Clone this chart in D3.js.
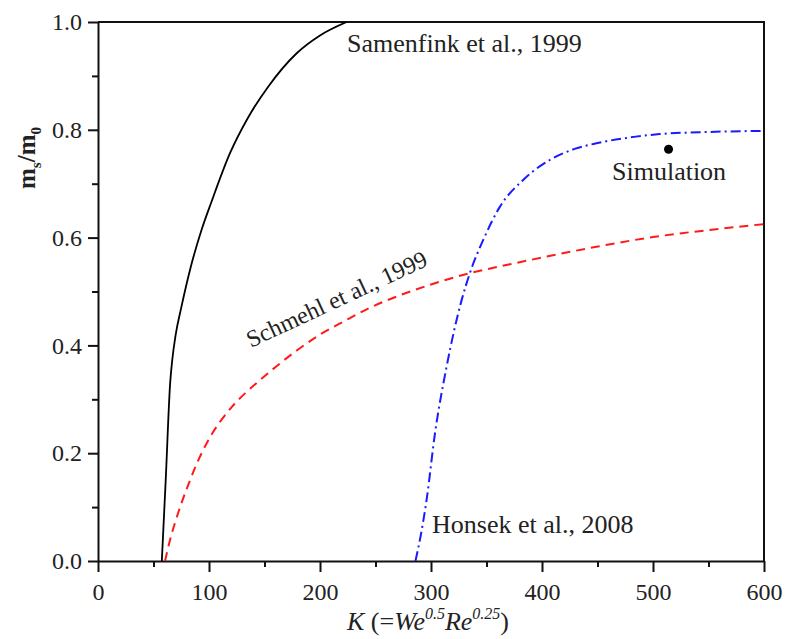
<!DOCTYPE html>
<html lang="en">
<head>
  <meta charset="utf-8" />
  <title>Deposited mass fraction vs K</title>
<style>
body {
	margin: 0;
	background: #fff;
	font-family: 'Liberation Serif', 'Times New Roman', serif;
}
.axis text {
	font-family: 'Liberation Serif', 'Times New Roman', serif;
	font-size: 24px;
	fill: #222;
}
.axis path, .axis line {
	stroke: #111;
	stroke-width: 2px;
}
.lbl {
	font-size: 26px;
	fill: #222;
}
</style>
</head>
<body>
<svg width="785" height="639"></svg>
<script src="https://cdn.jsdelivr.net/npm/d3@7"></script>
<script>

// Samenfink et al., 1999 (solid black)
var samenfinkK = [57.5, 61, 65, 67, 70, 75, 83.5, 93.4, 102, 119, 135, 153, 179, 200, 224];
var samenfinkM = [0, 0.15, 0.33, 0.375, 0.42, 0.47, 0.545, 0.615, 0.665, 0.757, 0.822, 0.879, 0.942, 0.975, 1.0];

// Schmehl et al., 1999 (red dashed)
var schmehlK = [60.4, 65, 70, 76, 82, 88, 95, 103, 112, 121, 133, 145, 160, 180, 200, 221, 245, 272, 300, 335, 370, 400, 449, 500, 550, 600];
var schmehlM = [0, 0.04, 0.075, 0.112, 0.145, 0.176, 0.207, 0.237, 0.264, 0.287, 0.312, 0.334, 0.36, 0.392, 0.42, 0.444, 0.47, 0.493, 0.513, 0.534, 0.55, 0.563, 0.583, 0.601, 0.614, 0.625];

// Honsek et al., 2008 (blue dash-dot)
var honsekK = [286, 291, 296, 303.6, 314, 327.6, 335, 348, 362, 383, 407, 430, 449, 480, 506, 550, 600];
var honsekM = [0, 0.05, 0.113, 0.237, 0.36, 0.484, 0.534, 0.6, 0.657, 0.707, 0.744, 0.765, 0.775, 0.786, 0.792, 0.796, 0.798];

// simulation point
var simK = [514];
var simM = [0.764];

var xTicks = [0, 100, 200, 300, 400, 500, 600];
var yTicks = [0.0, 0.2, 0.4, 0.6, 0.8, 1.0];

var svg = d3.select("svg");
var margin = {top: 22, right: 21, bottom: 78, left: 98};
var width = 785 - margin.left - margin.right,
	height = 639 - margin.top - margin.bottom;

var x = d3.scaleLinear().domain([0, 600]).range([0, width]);
var y = d3.scaleLinear().domain([0, 1]).range([height, 0]);

var g = svg.append("g")
	.attr("transform", "translate(" + margin.left + "," + margin.top + ")");

g.append("clipPath").attr("id", "clip")
	.append("rect").attr("width", width).attr("height", height);

// minor ticks
g.append("g").attr("class", "axis")
	.attr("transform", "translate(0," + height + ")")
	.call(d3.axisBottom(x).tickValues(d3.range(50, 600, 100)).tickSize(6).tickFormat(""))
	.select(".domain").remove();
g.append("g").attr("class", "axis")
	.call(d3.axisLeft(y).tickValues([0.1, 0.3, 0.5, 0.7, 0.9]).tickSize(6).tickFormat(""))
	.select(".domain").remove();

// major ticks
var xAxis = g.append("g").attr("class", "axis")
	.attr("transform", "translate(0," + height + ")")
	.call(d3.axisBottom(x).tickValues(xTicks).tickSize(11).tickSizeOuter(0).tickPadding(6).tickFormat(d3.format("d")));
xAxis.selectAll("text").attr("dy", "0.92em");

g.append("g").attr("class", "axis")
	.call(d3.axisLeft(y).tickValues(yTicks).tickSize(10).tickSizeOuter(0).tickPadding(6).tickFormat(d3.format(".1f")));

// frame top + right
g.append("path")
	.attr("d", "M0,0H" + width + "V" + height)
	.attr("fill", "none")
	.attr("stroke", "#111")
	.attr("stroke-width", 2);

var line = d3.line()
	.x(function(d) { return x(d[0]); })
	.y(function(d) { return y(d[1]); })
	.curve(d3.curveMonotoneX);

function pairs(a, b) { return a.map(function(v, i) { return [v, b[i]]; }); }

var curves = g.append("g").attr("clip-path", "url(#clip)");

curves.append("path")
	.datum(pairs(schmehlK, schmehlM))
	.attr("d", line)
	.attr("fill", "none")
	.attr("stroke", "#ff1a1a")
	.attr("stroke-width", 2)
	.attr("stroke-dasharray", "9,6");

curves.append("path")
	.datum(pairs(honsekK, honsekM))
	.attr("d", line)
	.attr("fill", "none")
	.attr("stroke", "#1a1aff")
	.attr("stroke-width", 2)
	.attr("stroke-dasharray", "10,4,2,4");

curves.append("path")
	.datum(pairs(samenfinkK, samenfinkM))
	.attr("d", line)
	.attr("fill", "none")
	.attr("stroke", "#000")
	.attr("stroke-width", 1.8);

g.selectAll(".sim").data(pairs(simK, simM)).enter()
	.append("circle")
	.attr("class", "sim")
	.attr("cx", function(d) { return x(d[0]); })
	.attr("cy", function(d) { return y(d[1]); })
	.attr("r", 4.5)
	.attr("fill", "#000");

// annotations
svg.append("text").attr("class", "lbl").attr("x", 347).attr("y", 52).text("Samenfink et al., 1999");
svg.append("text").attr("class", "lbl").attr("x", 612).attr("y", 180).text("Simulation");
svg.append("text").attr("class", "lbl").attr("x", 432).attr("y", 533).text("Honsek et al., 2008");
svg.append("text").attr("class", "lbl")
	.style("font-size", "24px")
	.attr("transform", "translate(251,348) rotate(-25)")
	.text("Schmehl et al., 1999");

// axis titles
var xt = svg.append("text").attr("class", "lbl")
	.attr("x", 428).attr("y", 630).attr("text-anchor", "middle");
xt.append("tspan").style("font-style", "italic").text("K");
xt.append("tspan").text(" (=");
xt.append("tspan").style("font-style", "italic").text("We");
xt.append("tspan").style("font-style", "italic").style("font-size", "16px").attr("dy", -11).text("0.5");
xt.append("tspan").style("font-style", "italic").attr("dy", 11).text("Re");
xt.append("tspan").style("font-style", "italic").style("font-size", "16px").attr("dy", -11).text("0.25");
xt.append("tspan").attr("dy", 11).text(")");

var yt = svg.append("text").attr("class", "lbl")
	.attr("transform", "translate(35,158) rotate(-90)")
	.attr("text-anchor", "middle")
	.style("font-weight", "bold")
	.style("font-size", "25px");
yt.append("tspan").text("m");
yt.append("tspan").style("font-size", "15px").attr("dy", 6).text("s");
yt.append("tspan").attr("dy", -6).text("/m");
yt.append("tspan").style("font-size", "15px").attr("dy", 6).text("0");

</script>
</body>
</html>
